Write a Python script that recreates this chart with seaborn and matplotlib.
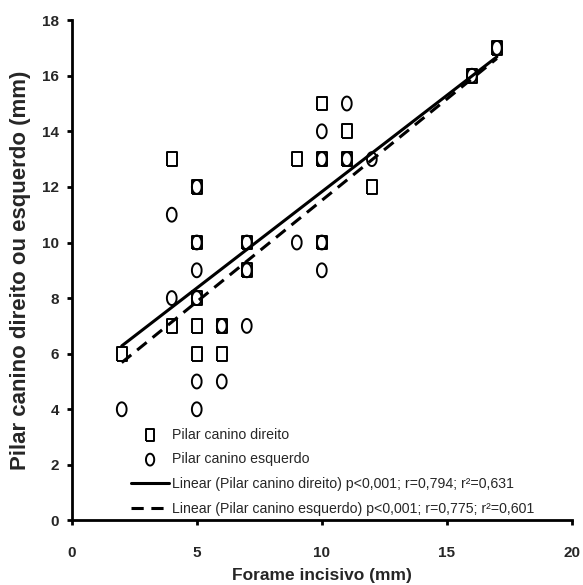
import numpy as np
import pandas as pd
import matplotlib
matplotlib.use("Agg")
import matplotlib.pyplot as plt
import seaborn as sns

# ---- data ----
direito_x = [2, 4, 4, 5, 5, 5, 5, 5, 6, 6, 7, 7, 9, 10, 10, 10, 11, 11, 12, 16, 17]
direito_y = [6, 13, 7, 12, 10, 8, 7, 6, 7, 6, 10, 9, 13, 15, 13, 10, 14, 13, 12, 16, 17]
esquerdo_x = [2, 4, 4, 5, 5, 5, 5, 5, 5, 6, 6, 7, 7, 7, 9, 10, 10, 10, 10, 11, 11, 12, 16, 17]
esquerdo_y = [4, 11, 8, 12, 10, 9, 8, 5, 4, 7, 5, 10, 9, 7, 10, 14, 13, 10, 9, 15, 13, 13, 16, 17]
fit_x = [2, 17]
fit_direito = [6.28, 16.68]
fit_esquerdo = [5.68, 16.62]
x_ticks = [0, 5, 10, 15, 20]
y_ticks = [0, 2, 4, 6, 8, 10, 12, 14, 16, 18]
label_direito = "Pilar canino direito"
label_esquerdo = "Pilar canino esquerdo"
label_fit_direito = "Linear (Pilar canino direito) p<0,001; r=0,794; r²=0,631"
label_fit_esquerdo = "Linear (Pilar canino esquerdo) p<0,001; r=0,775; r²=0,601"
x_label = "Forame incisivo (mm)"
y_label = "Pilar canino direito ou esquerdo (mm)"

df_d = pd.DataFrame({"x": direito_x, "y": direito_y})
df_e = pd.DataFrame({"x": esquerdo_x, "y": esquerdo_y})
df_fd = pd.DataFrame({"x": fit_x, "y": fit_direito})
df_fe = pd.DataFrame({"x": fit_x, "y": fit_esquerdo})

sns.set_style("white")
plt.rcParams["font.family"] = ["Liberation Sans", "DejaVu Sans"]

# stretched marker shapes (taller than wide, as in the reference)
aspect = 0.70
rect_marker = [(-aspect, -1), (aspect, -1), (aspect, 1), (-aspect, 1), (-aspect, -1)]
t = np.linspace(0, 2 * np.pi, 60)
ell_marker = list(zip(aspect * np.cos(t), np.sin(t)))

fig = plt.figure(figsize=(5.83, 5.85), dpi=100)
ax = fig.add_axes([0.123, 0.1103, 0.858, 0.8553])

sns.scatterplot(data=df_d, x="x", y="y", ax=ax, marker=rect_marker, s=100,
                facecolor="none", edgecolor="black", linewidth=1.4, label=label_direito)
sns.scatterplot(data=df_e, x="x", y="y", ax=ax, marker=ell_marker, s=100,
                facecolor="none", edgecolor="black", linewidth=1.4, label=label_esquerdo)
sns.lineplot(data=df_fd, x="x", y="y", ax=ax, color="black", linewidth=2.2,
             label=label_fit_direito)
sns.lineplot(data=df_fe, x="x", y="y", ax=ax, color="black", linewidth=2.2,
             linestyle=(0, (4, 2.5)), label=label_fit_esquerdo)

ax.set_xlim(0, 20)
ax.set_ylim(0, 18)
ax.set_xticks(x_ticks)
ax.set_yticks(y_ticks)
for s in ["top", "right"]:
    ax.spines[s].set_visible(False)
for s in ["left", "bottom"]:
    ax.spines[s].set_color("black")
    ax.spines[s].set_linewidth(2.0)
ax.tick_params(axis="both", which="major", direction="out", length=3.5, width=2.0,
               color="black", left=True, bottom=True, labelsize=11)
ax.tick_params(axis="y", pad=5.5)
ax.tick_params(axis="x", pad=15)
ax.set_xticklabels([str(v) for v in x_ticks], fontweight="bold")
ax.set_yticklabels([str(v) for v in y_ticks], fontweight="bold")

ax.set_xlabel(x_label, fontweight="bold", fontsize=12.5)
ax.set_ylabel(y_label, fontweight="bold", fontsize=16)
ax.xaxis.set_label_coords(0.5, -0.095)
ax.yaxis.set_label_coords(-0.081, 0.5)

leg = ax.legend(loc="lower left", bbox_to_anchor=(0.105, -0.005), frameon=False,
                prop={"size": 10.2}, handlelength=2.65, markerscale=0.85,
                handletextpad=0.2, labelspacing=0.76, borderpad=0.0)

fig.savefig("out.png", dpi=100)
